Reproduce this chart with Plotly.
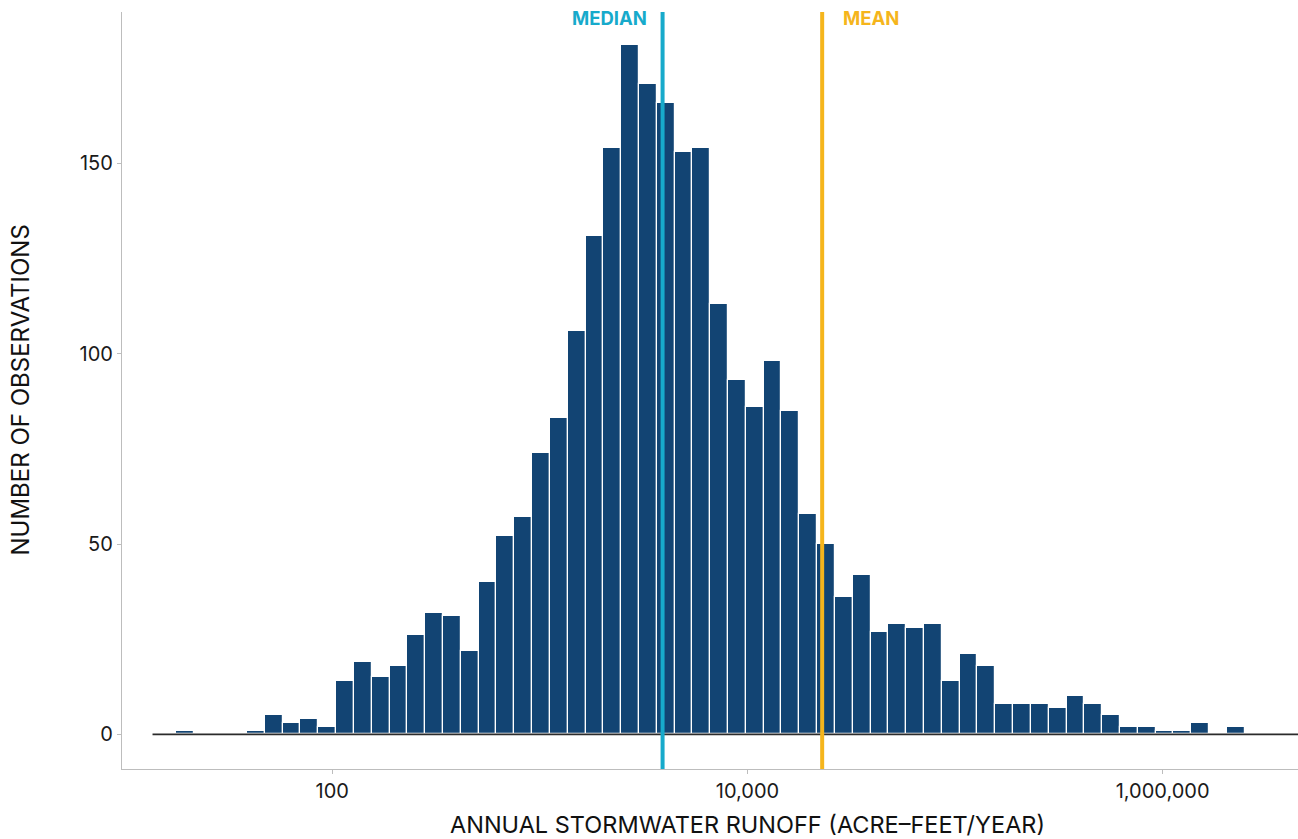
import numpy as np
import plotly.graph_objects as go

# Histogram of annual stormwater runoff (log10-spaced bins)
counts = [1, 0, 0, 0, 1, 5, 3, 4, 2, 14,
          19, 15, 18, 26, 32, 31, 22, 40, 52, 57,
          74, 83, 106, 131, 154, 181, 171, 166, 153, 154,
          113, 93, 86, 98, 85, 58, 50, 36, 42, 27,
          29, 28, 29, 14, 21, 18, 8, 8, 8, 7,
          10, 8, 5, 2, 2, 1, 1, 3, 0, 2]
bin_start_log10 = 1.246      # lower edge of first bin, log10(acre-feet/year)
bin_width_log10 = 0.08582    # bin width in log10 units

median_runoff = 3900
mean_runoff = 22900

x_tick_values = [100, 10000, 1000000]
x_tick_labels = ["100", "10,000", "1,000,000"]
y_tick_values = [0, 50, 100, 150]

edges = bin_start_log10 + bin_width_log10 * np.arange(len(counts) + 1)
centers = (edges[:-1] + edges[1:]) / 2

BAR = "#124473"
MEDIAN_C = "#17aacb"
MEAN_C = "#f5b51c"
AXIS_C = "#bdbdbd"
FONT = "Inter"
TEXT_C = "#1a1a1a"

fig = go.Figure()
fig.add_trace(go.Bar(
    x=centers, y=counts, width=bin_width_log10,
    marker=dict(color=BAR, line=dict(color="white", width=1.2)),
    hoverinfo="skip", showlegend=False,
))

# baseline at zero
fig.add_shape(type="line", xref="x", yref="y", x0=1.134, x1=6.652, y0=0, y1=0,
              line=dict(color="#2b2b2b", width=1.6), layer="above")

med_x = np.log10(median_runoff)
mean_x = np.log10(mean_runoff)
fig.add_shape(type="line", xref="x", yref="paper", x0=med_x, x1=med_x, y0=0, y1=1,
              line=dict(color=MEDIAN_C, width=4), layer="above")
fig.add_shape(type="line", xref="x", yref="paper", x0=mean_x, x1=mean_x, y0=0, y1=1,
              line=dict(color=MEAN_C, width=4), layer="above")

fig.add_annotation(x=med_x, xref="x", y=1, yref="paper", yanchor="middle", yshift=-6,
                   text="<b>MEDIAN</b>", showarrow=False, xanchor="right", xshift=-14,
                   font=dict(family=FONT, size=18.5, color=MEDIAN_C))
fig.add_annotation(x=mean_x, xref="x", y=1, yref="paper", yanchor="middle", yshift=-6,
                   text="<b>MEAN</b>", showarrow=False, xanchor="left", xshift=19,
                   font=dict(family=FONT, size=18.5, color=MEAN_C))

fig.update_layout(
    width=1298, height=839,
    margin=dict(l=122, r=0, t=12, b=70),
    plot_bgcolor="white", paper_bgcolor="white",
    bargap=0,
    font=dict(family=FONT, size=20, color=TEXT_C),
    xaxis=dict(
        range=[0.987, 6.652],
        tickvals=list(np.log10(x_tick_values)), ticktext=x_tick_labels,
        showline=True, linecolor=AXIS_C, linewidth=1.2,
        ticks="outside", ticklen=4, tickcolor=AXIS_C, tickwidth=1,
        showgrid=False, zeroline=False,
        tickfont=dict(family=FONT, size=20, color=TEXT_C),
    ),
    yaxis=dict(
        range=[-9.1, 189.8],
        tickvals=y_tick_values,
        showline=True, linecolor=AXIS_C, linewidth=1.2,
        ticks="outside", ticklen=4, tickcolor=AXIS_C, tickwidth=1,
        showgrid=False, zeroline=False,
        tickfont=dict(family=FONT, size=20, color=TEXT_C),
    ),
)

# axis titles
fig.add_annotation(x=0.5, y=0, xref="paper", yref="paper", xanchor="center",
                   xshift=37, yanchor="middle", yshift=-55, borderpad=0,
                   text="ANNUAL STORMWATER RUNOFF (ACRE\u2013FEET/YEAR)",
                   showarrow=False, font=dict(family=FONT, size=23.5, color="#111111"))
fig.add_annotation(x=0, xref="paper", xshift=-102, xanchor="center",
                   y=0.5, yref="paper", yanchor="middle", textangle=-90,
                   text="NUMBER OF OBSERVATIONS", showarrow=False,
                   font=dict(family=FONT, size=24, color="#111111"))

fig.write_html("out.html")
